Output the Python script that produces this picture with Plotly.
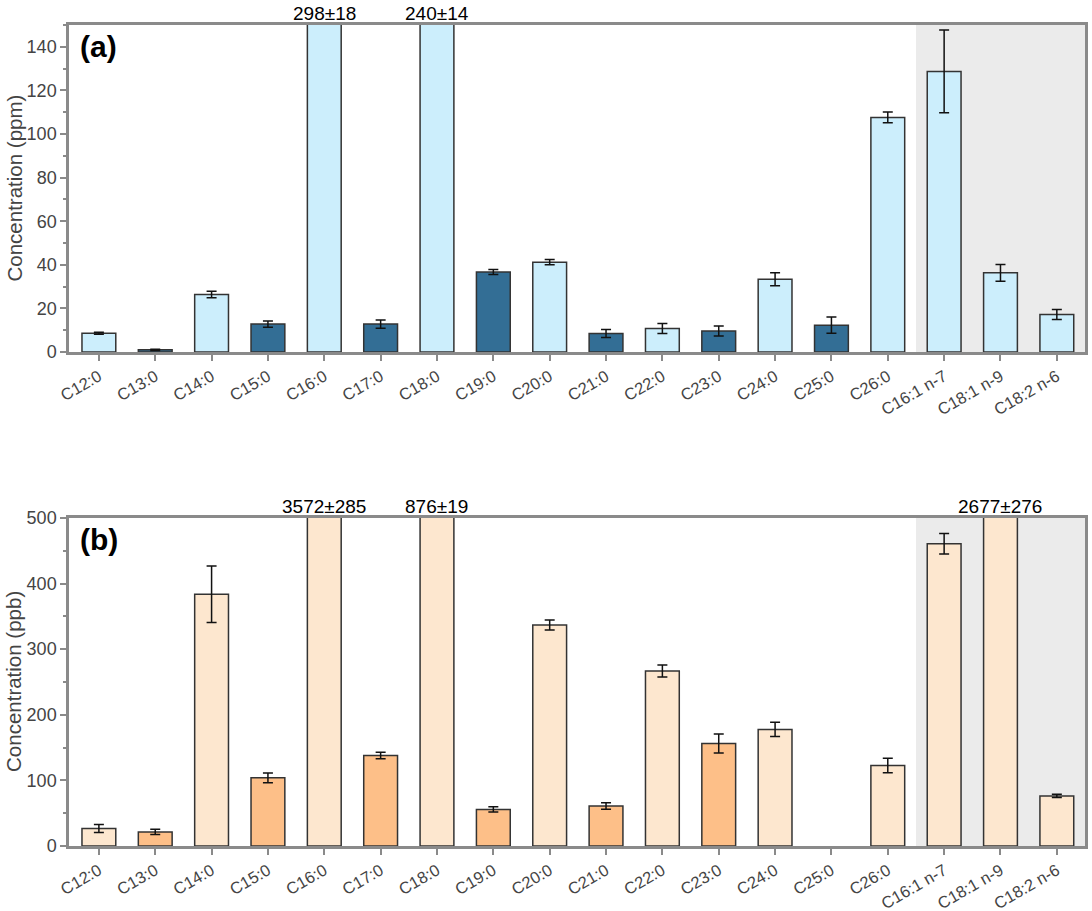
import plotly.graph_objects as go

categories = ["C12:0", "C13:0", "C14:0", "C15:0", "C16:0", "C17:0", "C18:0", "C19:0",
              "C20:0", "C21:0", "C22:0", "C23:0", "C24:0", "C25:0", "C26:0",
              "C16:1 n-7", "C18:1 n-9", "C18:2 n-6"]

# panel (a) ppm
a_values = [8.6, 1.0, 26.4, 12.8, 298, 12.8, 240, 36.7, 41.2, 8.5, 10.8, 9.6, 33.4, 12.3, 107.6, 128.7, 36.3, 17.2]
a_errors = [0.5, 0.3, 1.5, 1.4, 18, 1.9, 14, 1.1, 1.2, 1.8, 2.3, 2.3, 3.0, 3.7, 2.5, 19.0, 3.8, 2.3]

# panel (b) ppb
b_values = [26.6, 21.4, 383.8, 103.8, 3572, 138, 876, 55.6, 337, 61, 266.7, 156.3, 177.7, None, 122.7, 460.6, 2677, 76.3]
b_errors = [6, 4, 43, 7.6, 285, 5, 19, 4, 7.6, 5, 9, 14.5, 10.7, None, 11, 15.6, 276, 2.5]

odd_chain = [False, True, False, True, False, True, False, True, False, True, False, True, False, True, False, False, False, False]

a_ymax = 150
b_ymax = 500

A_LIGHT, A_DARK = "#CCEEFC", "#336E95"
B_LIGHT, B_DARK = "#FDE7CF", "#FDBF88"

FONT = "Liberation Sans, Arial, sans-serif"
LINE = "#8A8A8A"

fig = go.Figure()

fig.add_trace(go.Bar(
    x=categories, y=a_values, width=0.6,
    marker=dict(color=[A_DARK if o else A_LIGHT for o in odd_chain],
                line=dict(color="#333333", width=1.5)),
    error_y=dict(type="data", array=a_errors, color="#111111", thickness=1.5, width=5),
    xaxis="x", yaxis="y", showlegend=False))

fig.add_trace(go.Bar(
    x=categories, y=b_values, width=0.6,
    marker=dict(color=[B_DARK if o else B_LIGHT for o in odd_chain],
                line=dict(color="#333333", width=1.5)),
    error_y=dict(type="data", array=b_errors, color="#111111", thickness=1.5, width=5),
    xaxis="x2", yaxis="y2", showlegend=False))

annotations = []
for cat, v, e in zip(categories, a_values, a_errors):
    if v is not None and v > a_ymax:
        annotations.append(dict(x=cat, xref="x", y=1, yref="y domain", yanchor="bottom",
                                text=f"{v:g}±{e:g}", showarrow=False, yshift=-1,
                                font=dict(size=19, color="black", family=FONT)))
for cat, v, e in zip(categories, b_values, b_errors):
    if v is not None and v > b_ymax:
        annotations.append(dict(x=cat, xref="x2", y=1, yref="y2 domain", yanchor="bottom",
                                text=f"{v:g}±{e:g}", showarrow=False, yshift=-1,
                                font=dict(size=19, color="black", family=FONT)))
annotations.append(dict(x=0.009, xref="x domain", y=0.99, yref="y domain", xanchor="left", yanchor="top",
                        text="<b>(a)</b>", showarrow=False, font=dict(size=30, color="black", family=FONT)))
annotations.append(dict(x=0.009, xref="x2 domain", y=0.99, yref="y2 domain", xanchor="left", yanchor="top",
                        text="<b>(b)</b>", showarrow=False, font=dict(size=30, color="black", family=FONT)))
# y-axis titles
for ttl, yr in [("Concentration (ppm)", "y domain"), ("Concentration (ppb)", "y2 domain")]:
    annotations.append(dict(x=14 / 1092, xref="paper", y=0.5, yref=yr, xanchor="center", yanchor="middle",
                            text=ttl, textangle=-90, showarrow=False,
                            font=dict(size=20.5, color="#444444", family=FONT)))

shapes = [
    dict(type="rect", xref="x", yref="y domain", x0=14.5, x1=17.5, y0=0, y1=1,
         fillcolor="#EBEBEB", line=dict(width=0), layer="below"),
    dict(type="rect", xref="x2", yref="y2 domain", x0=14.5, x1=17.5, y0=0, y1=1,
         fillcolor="#EBEBEB", line=dict(width=0), layer="below"),
]

xaxis_common = dict(
    type="category", range=[-0.53, 17.5], showline=True, mirror=True, linecolor=LINE, linewidth=2.5,
    ticks="outside", ticklen=6, tickwidth=2, tickcolor=LINE, tickangle=-30,
    tickfont=dict(size=16.5, color="#444444", family=FONT), showgrid=False, zeroline=False,
    automargin=False)

yaxis_common = dict(
    showline=True, mirror=True, linecolor=LINE, linewidth=2.5,
    ticks="outside", ticklen=6, tickwidth=2, tickcolor=LINE,
    tickfont=dict(size=18, color="#444444", family=FONT), showgrid=False, zeroline=False,
    automargin=False)

fig.update_layout(
    width=1092, height=911,
    margin=dict(l=0, r=0, t=0, b=0),
    paper_bgcolor="white", plot_bgcolor="white",
    font=dict(family=FONT),
    xaxis=dict(**xaxis_common, domain=[0.0632, 0.9936], anchor="y"),
    xaxis2=dict(**xaxis_common, domain=[0.0632, 0.9936], anchor="y2"),
    yaxis=dict(**yaxis_common, domain=[0.6136, 0.9726], anchor="x", range=[0, a_ymax],
               dtick=20, minor=dict(dtick=10, ticks="outside", ticklen=3, tickcolor=LINE, tickwidth=2)),
    yaxis2=dict(**yaxis_common, domain=[0.0714, 0.4314], anchor="x2", range=[0, b_ymax],
                dtick=100, minor=dict(dtick=50, ticks="outside", ticklen=3, tickcolor=LINE, tickwidth=2)),
    annotations=annotations,
    shapes=shapes,
)

# remove the default page margin so the 1092x911 figure fills the window
fig.write_html("out.html", config={"displayModeBar": False},
               post_script="document.body.style.margin='0';document.body.style.overflow='hidden';")
